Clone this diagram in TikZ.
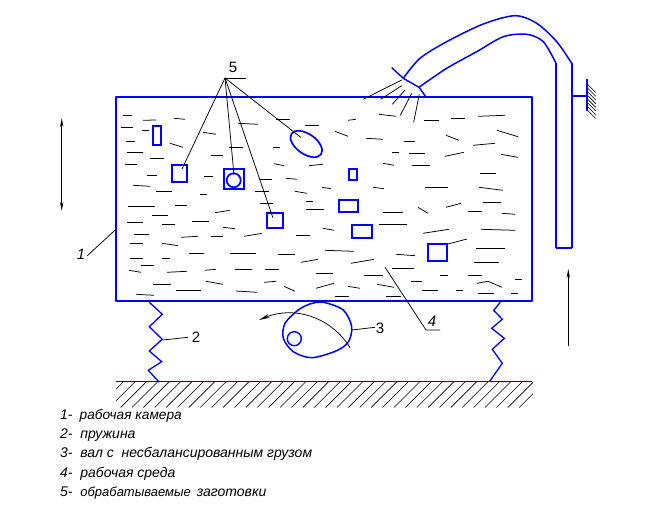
\documentclass[tikz,border=0pt]{standalone}
\usepackage{fontspec}
\setmainfont{Liberation Sans}
\usetikzlibrary{arrows.meta,calc}
\definecolor{wallblue}{RGB}{0,0,255}
\tikzset{
  wall/.style={draw=wallblue,line width=1.9pt,line join=round},
  bent/.style={draw=wallblue,line width=1.5pt,line join=round},
  part/.style={draw=wallblue,line width=1.7pt},
  liquid/.style={draw=black,line width=0.75pt},
  leader/.style={draw=black,line width=0.75pt},
  hatchline/.style={draw=black,line width=0.6pt},
  shift arrow/.style={draw=black,line width=0.8pt,{Stealth[length=9pt,width=3.2pt]}-{Stealth[length=9pt,width=3.2pt]}},
  lab/.style={font=\fontsize{15}{15}\selectfont,inner sep=0pt},
  legend/.style={font=\fontsize{14}{16}\selectfont\itshape,inner sep=0pt,anchor=west}
}
\begin{document}
\begin{tikzpicture}[x=1pt,y=-1pt]
\useasboundingbox (0,0) rectangle (658,510);

% chamber, floor
\draw[wall] (116,97) rectangle (532,301);
\draw[wall] (116,381.5) -- (532,381.5);
\begin{scope}
\clip (116,382) rectangle (533,407);
\foreach \k in {0,...,37}
  \draw[hatchline] ($(123.3,382)+(11.39*\k,0)$) -- ++(-25.5,25.5);
\end{scope}

% liquid
\foreach \xa/\ya/\xb/\yb in {
 123/115/132/115,143/120.3/156/120,174/118.3/185/119.3,121/127.3/133/127.3,
 142/130.3/149/130.3,126/141.3/135/141.3,127/152/143/152,170/143.3/183/147.3,
 150/158.3/164/158.3,125/164.3/137/164.3,147/175.3/157/175.3,133/185.3/150/186.3,
 156/191/172/191,200/194.3/207/194.3,204/176.3/213/176.3,211/155.3/223/155.3,
 203/132.3/216/134.3,229/147.3/243/147.3,238/123.3/258/124.3,276/119.3/290/119.3,
 305/125/319/125,273/147.3/280/147.3,274/163.7/284/165.7,309/165.7/323/164.3,
 260/179.3/272/179.3,286/178.3/297/179.3,322/187.3/331/188.7,295/191.3/307/193.3,
 255/191/269/191,306/201.3/313/201.3,260/203.3/273/203.3,128/206/155/206,
 175/205.3/187/205.3,215/212.7/230/210.3,306/209.3/324/209.3,152/215.3/168/215.3,
 127/222.3/143/222.3,162/224.3/175/224.3,192/221.3/209/221.3,223/227.3/235/228.7,
 134/234.3/149/234.3,181/237.3/198/236.3,211/236.3/223/236.3,244/236.3/262/233.3,
 296/235.3/310/235.3,323/228.3/334/230.3,130/243.3/143/243.3,162/243.3/178/245.7,
 189/253.3/204/253.3,230/253.3/256/253.3,278/254.3/295/254.3,325/250.3/354/251.3,
 130/258.3/143/258.3,162/258.3/170/258.3,141/265.3/154/265.3,301/262.3/318/259.3,
 129/270.3/141/272.3,167/272.3/187/271.3,205/270.3/216/269.3,235/269.3/252/269.3,
 265/269.3/279/269.3,316/273.3/333/273.3,153/284.3/171/284.3,206/281.3/223/284.3,
 264/282.3/276/281.3,284/286.3/295/291.3,316/288.3/334/283.3,176/290.3/201/290.3,
 236/291/257/292.3,136/294.3/154/295.3,348/120.3/356/119.3,379/114.3/396/116.3,
 424/120.3/439/120.3,451/118.3/465/118.3,478/116.3/505/115.3,497/130.3/518/136.7,
 335/131.3/348/136.3,366/138.3/383/139.3,404/141.3/415/141.3,446/135.3/459/140.3,
 473/145.3/495/143.3,392/152.3/399/152.3,409/153.3/425/153.3,445/156.3/464/152.3,
 501/154.3/518/157.3,383/163.3/394/165.3,412/165.3/430/165.3,480/173.3/496/173.3,
 373/187.3/384/188.7,425/187.3/448/187.3,479/187.3/503/190.3,483/202.3/501/202.3,
 383/212.3/403/212.3,418/207.3/428/213.3,446/207.3/461/203.3,468/211.3/482/211.3,
 502/213.3/515/214.3,379/224.3/407/224.3,423/233.3/449/229.3,481/229.3/515/230.3,
 396/254.3/415/255.7,476/248.3/505/248.3,351/263.3/374/259.3,474/262.3/499/262.3,
 392/268.3/414/268.3,364/275.3/383/275.3,440/275.3/448/275.3,468/275.3/482/275.3,
 515/279.3/522/279.3,348/286.3/360/288.3,377/284.3/394/287.3,411/281.3/422/281.3,
 422/290.3/438/290.3,456/290.3/463/290.3,478/293.3/494/293.3,511/293.3/518/293.3,
 335/296.3/349/296.3,386/296.3/401/296.3}
  \draw[liquid] (\xa,\ya) -- (\xb,\yb);
\draw[liquid] (477,283.3) -- (488,281.3) -- (502,287.3);

% spray
\foreach \xa/\ya/\xb/\yb in {363.3/99.3/401.7/80,380.7/99.3/401.7/85.7,392.3/104.3/405/90,
 400.3/115.3/411.7/93.3,413.7/122.3/419.3/94.3}
  \draw[leader] (\xa,\ya) -- (\xb,\yb);

% workpieces
\foreach \xa/\ya/\xb/\yb in {153/126/161/145,172/165/187/182,224/169/244/189,267/213/283/228,
 349/169/357/180,339/200/358/212,352/225/372/238,428/244/447/261}
  \draw[part] (\xa,\ya) rectangle (\xb,\yb);
\draw[part] (233.7,180.3) circle (7);
\draw[part] (306.3,144) ellipse [x radius=18,y radius=10,rotate=-35];

% pipe
\draw[wall] (571.7,248) -- (571.7,63.3);
\draw[wall] (556,248) -- (556,63.3);
\draw[wall] (556,248) -- (571.7,248);
\draw[bent] plot[smooth] coordinates {(571.7,63.3) (556.7,41.7) (536.7,23.3) (515,15.7) (483.3,24) (446.7,41.7) (420,58.3) (403.3,78.3)};
\draw[bent] plot[smooth] coordinates {(556,63.3) (543.3,41.7) (526.7,34.3) (503.3,36.7) (476.7,51.7) (446.7,68.3) (419,87.3)};
\draw[draw=wallblue,line width=1.4pt] (391.7,67.7) -- (403.3,78.3) -- (419,87.3) -- (425.7,96.7);

% bracket
\draw[wall] (571.7,96) -- (586.7,96);
\draw[wall] (586.7,79.3) -- (586.7,111.5);
\foreach \k in {0,...,7}
  \draw[hatchline] ($(586.7,83.5)+(0,3.7*\k)$) -- ++(9,9);

% springs
\draw[draw=wallblue,line width=1.3pt] (149.3,302.3) -- (162.3,314.3) -- (149.3,326.7) -- (162.3,339.3) -- (149.3,351) -- (161.7,361.7) -- (148.3,370.3) -- (159.3,382.3);
\draw[draw=wallblue,line width=1.3pt] (500.3,302.3) -- (493.7,310.3) -- (502.3,319.3) -- (491.7,328.3) -- (504.3,338.3) -- (492.3,349.3) -- (502.3,363.3) -- (489.7,381.3);

% cam
\draw[bent] plot[smooth cycle] coordinates {(323.3,302.3) (343.3,310) (351.7,326.7) (348.3,342) (336,351) (311.7,357.7) (293.3,351.7) (283.3,338.3) (285,323.3) (298.3,310) (310,304)};
\draw[draw=wallblue,line width=1.4pt] (294.3,338.7) circle (7);
\draw[leader,-{Stealth[length=11pt,width=4pt]}] (350,347.7) .. controls (332,318) and (295,305) .. (259,320);

% motion arrows
\coordinate (a1) at (61.7,118);
\coordinate (a2) at (61.7,211);
\coordinate (a3) at (568.3,345.7);
\coordinate (a4) at (568.3,269);
\draw[shift arrow] (a1) -- (a2);
\draw[draw=black,line width=0.8pt,-{Stealth[length=9pt,width=3.2pt]}] (a3) -- (a4);

% labels
\node (n1) at (81,254) [lab] {\itshape 1};
\node (n2) at (196,337) [lab] {2};
\node (n3) at (380,328) [lab] {3};
\node (n4) at (432,321) [lab] {\itshape 4};
\node (n5) at (233,67) [lab] {5};

\coordinate (c1) at (116,229.3);
\coordinate (c2) at (163,340);
\coordinate (c3) at (351.7,330);
\coordinate (c4) at (385,267.3);
\coordinate (c5) at (225,78);

\draw[leader] (87.3,255.7) -- (c1);
\draw[leader] (c2) -- (188,337.3);
\draw[leader] (c3) -- (375,327.3);
\draw[leader] (c4) -- (426,330) -- (440,330);
\draw[leader] (c5) -- (246,78);
\draw[leader] (c5) -- (182,169);
\draw[leader] (c5) -- (234,175);
\draw[leader] (c5) -- (273,218);
\draw[leader] (c5) -- (300.7,137.3);
\draw[leader] (448,244) -- (467,239);

% legend
\node (t1) at (60,415.5) [legend] {1-\hspace{7pt}{\fontsize{13.7}{16}\selectfont рабочая камера}};
\node (t2) at (60,435) [legend] {2- \ пружина};
\node (t3) at (60,454) [legend] {3- \ вал с \ несбалансированным грузом};
\node (t4) at (60,474) [legend] {4- \ рабочая среда};
\node (t5) at (60,493) [legend] {5- \ {\fontsize{13}{16}\selectfont обрабатываемые}\hspace{2pt} заготовки};
\end{tikzpicture}
\end{document}
